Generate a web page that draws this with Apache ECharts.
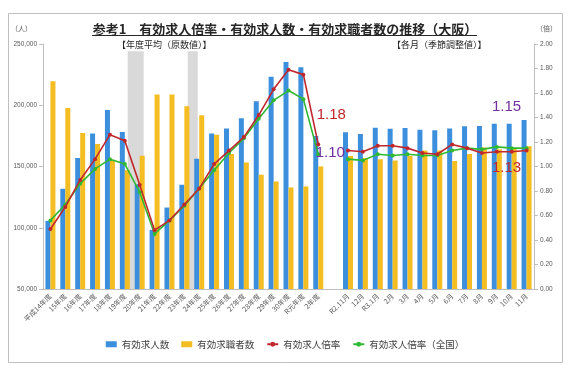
<!DOCTYPE html>
<html><head><meta charset="utf-8">
<script src="https://cdn.jsdelivr.net/npm/echarts@6/dist/echarts.min.js"></script>
<style>html,body{margin:0;padding:0;background:#fff}#c{width:570px;height:365px}</style>
</head><body><div id="c"></div>
<script>
const categories = ['平成14年度','15年度','16年度','17年度','18年度','19年度','20年度','21年度','22年度','23年度','24年度','25年度','26年度','27年度','28年度','29年度','30年度','R元年度','2年度','','R2.11月','12月','R3.1月','2月','3月','4月','5月','6月','7月','8月','9月','10月','11月'];
const jobOffers = [105600,131800,156900,177000,196200,178200,135500,98300,116500,135100,156300,177000,181100,189300,203200,223200,235400,231000,175000,'-',177900,176500,181700,180900,181400,180100,179500,181100,182800,183100,185000,185000,188000];
const jobSeekers = [219600,197800,177400,168400,155500,147000,158800,208700,208700,199100,191800,176000,160300,153300,143300,137800,132900,133700,150100,'-',158500,157000,156000,155000,158500,163000,163000,154500,160300,165500,164000,164500,166500];
const ratioOsaka = [0.49,0.67,0.89,1.06,1.26,1.21,0.85,0.48,0.56,0.69,0.82,1.02,1.13,1.24,1.42,1.63,1.79,1.75,1.18,'-',1.13,1.12,1.17,1.17,1.15,1.11,1.10,1.18,1.15,1.11,1.12,1.12,1.13];
const ratioNational = [0.56,0.69,0.86,0.98,1.06,1.02,0.79,0.45,0.56,0.68,0.82,0.97,1.11,1.23,1.39,1.54,1.62,1.55,1.10,'-',1.06,1.05,1.10,1.09,1.10,1.09,1.09,1.13,1.15,1.14,1.16,1.15,1.15];
const bandCatA = '20年度';
const bandCatB = '24年度';
const bandTop = 244000;
const leftTicks = {min:50000, max:250000, interval:50000};
const rightTicks = {min:0, max:2, interval:0.2};
const seriesNames = ['有効求人数','有効求職者数','有効求人倍率','有効求人倍率（全国）'];

const JP = '"Noto Sans CJK JP", sans-serif';
const C_BLUE = '#3b8fdd', C_YEL = '#f4bd22', C_RED = '#c0272d', C_GRN = '#2fb832', C_PUR = '#7030a0';

function bandData(cat){ return categories.map(c => c === cat ? bandTop : '-'); }
function withLabels(arr, labels){
  return arr.map((v,i) => labels[i] ? {value:v, label:Object.assign({show:true, position:'inside'}, labels[i])} : v);
}
const lastIdx = categories.length - 1;
const fyIdx = categories.indexOf('2年度');
const osakaLabels = {}; osakaLabels[fyIdx] = {offset:[13,-30], color:C_RED}; osakaLabels[lastIdx] = {offset:[-20,17], color:C_RED};
const natLabels = {}; natLabels[fyIdx] = {offset:[12,-1], color:C_PUR}; natLabels[lastIdx] = {offset:[-20,-41], color:C_PUR};

const numLabel = {fontFamily:'"Liberation Sans", sans-serif', fontSize:15, formatter: p => Number(p.value).toFixed(2)};

const chart = echarts.init(document.getElementById('c'));
const hiddenX = {type:'category', data:categories, show:false, gridIndex:0};
chart.setOption({
  animation:false,
  backgroundColor:'#fff',
  title:{text:'参考1　有効求人倍率・有効求人数・有効求職者数の推移（大阪）', left:'center', top:18,
    textStyle:{fontFamily:JP, fontSize:13, fontWeight:'bold', color:'#262626'}},
  graphic:[
    {type:'rect', shape:{x:8.5,y:13.5,width:554,height:349}, style:{fill:'none', stroke:'#bfbfbf', lineWidth:1}, silent:true},
    {type:'line', shape:{x1:92,y1:35.5,x2:477,y2:35.5}, style:{stroke:'#262626', lineWidth:1}},
    {type:'text', left:11, top:25, style:{text:'（人）', fontFamily:JP, fontSize:7, fill:'#595959'}},
    {type:'text', left:536, top:25, style:{text:'（倍）', fontFamily:JP, fontSize:7, fill:'#595959'}},
    {type:'text', left:117, top:40, z:10, style:{text:'【年度平均（原数値）】', fontFamily:JP, fontSize:9, fill:'#262626', backgroundColor:'#fff'}},
    {type:'text', left:392, top:40, z:10, style:{text:'【各月（季節調整値）】', fontFamily:JP, fontSize:9, fill:'#262626', backgroundColor:'#fff'}}
  ],
  legend:{bottom:11, left:'center', itemGap:12, itemWidth:11, itemHeight:6,
    data:[{name:seriesNames[0], icon:'rect'},{name:seriesNames[1], icon:'rect'},{name:seriesNames[2]},{name:seriesNames[3]}],
    textStyle:{fontFamily:JP, fontSize:9.5, color:'#404040'}},
  grid:{left:43, right:36, top:44, bottom:76},
  xAxis:[
    {type:'category', data:categories, axisLine:{lineStyle:{color:'#bfbfbf'}}, axisTick:{lineStyle:{color:'#bfbfbf'}, length:4},
     axisLabel:{rotate:45, interval:0, fontFamily:JP, fontSize:7, color:'#595959', margin:6}},
    hiddenX, hiddenX
  ],
  yAxis:[
    Object.assign({type:'value', splitLine:{show:false}, axisLine:{show:true, lineStyle:{color:'#bfbfbf'}}, axisTick:{show:true, length:4, lineStyle:{color:'#bfbfbf'}},
      axisLabel:{fontSize:6.5, color:'#595959', fontFamily:'"Liberation Sans", sans-serif', formatter:v => v.toLocaleString('en-US'), margin:6}}, leftTicks),
    Object.assign({type:'value', position:'right', splitLine:{show:false}, axisLine:{show:true, lineStyle:{color:'#bfbfbf'}}, axisTick:{show:true, length:4, lineStyle:{color:'#bfbfbf'}},
      axisLabel:{fontSize:6.5, color:'#595959', fontFamily:'"Liberation Sans", sans-serif', formatter:v => v.toFixed(2), margin:6}}, rightTicks)
  ],
  series:[
    {name:'bandA', type:'bar', xAxisIndex:1, yAxisIndex:0, data:bandData(bandCatA), barWidth:16, barGap:0, itemStyle:{color:'#d9d9d9'}, z:1, silent:true},
    {name:'bandAgap', type:'bar', xAxisIndex:1, yAxisIndex:0, data:categories.map(()=> '-'), barWidth:8, barGap:0, itemStyle:{color:'transparent'}, z:1, silent:true},
    {name:'bandB', type:'bar', xAxisIndex:2, yAxisIndex:0, data:bandData(bandCatB), barWidth:10, barGap:0, itemStyle:{color:'#d9d9d9'}, z:1, silent:true},
    {name:'bandBgap', type:'bar', xAxisIndex:2, yAxisIndex:0, data:categories.map(()=> '-'), barWidth:13, barGap:0, itemStyle:{color:'transparent'}, z:1, silent:true},
    {name:seriesNames[0], type:'bar', xAxisIndex:0, yAxisIndex:0, data:jobOffers, barWidth:5, barGap:0, itemStyle:{color:C_BLUE}, z:2},
    {name:seriesNames[1], type:'bar', xAxisIndex:0, yAxisIndex:0, data:jobSeekers, barWidth:5, barGap:0, itemStyle:{color:C_YEL}, z:2},
    {name:seriesNames[2], type:'line', xAxisIndex:0, yAxisIndex:1, data:withLabels(ratioOsaka, osakaLabels), symbol:'circle', symbolSize:4,
     lineStyle:{color:C_RED, width:1.6}, itemStyle:{color:C_RED}, label:Object.assign({show:false}, numLabel), z:4},
    {name:seriesNames[3], type:'line', xAxisIndex:0, yAxisIndex:1, data:withLabels(ratioNational, natLabels), symbol:'circle', symbolSize:4,
     lineStyle:{color:C_GRN, width:1.6}, itemStyle:{color:C_GRN}, label:Object.assign({show:false}, numLabel), z:3}
  ]
});
</script></body></html>
